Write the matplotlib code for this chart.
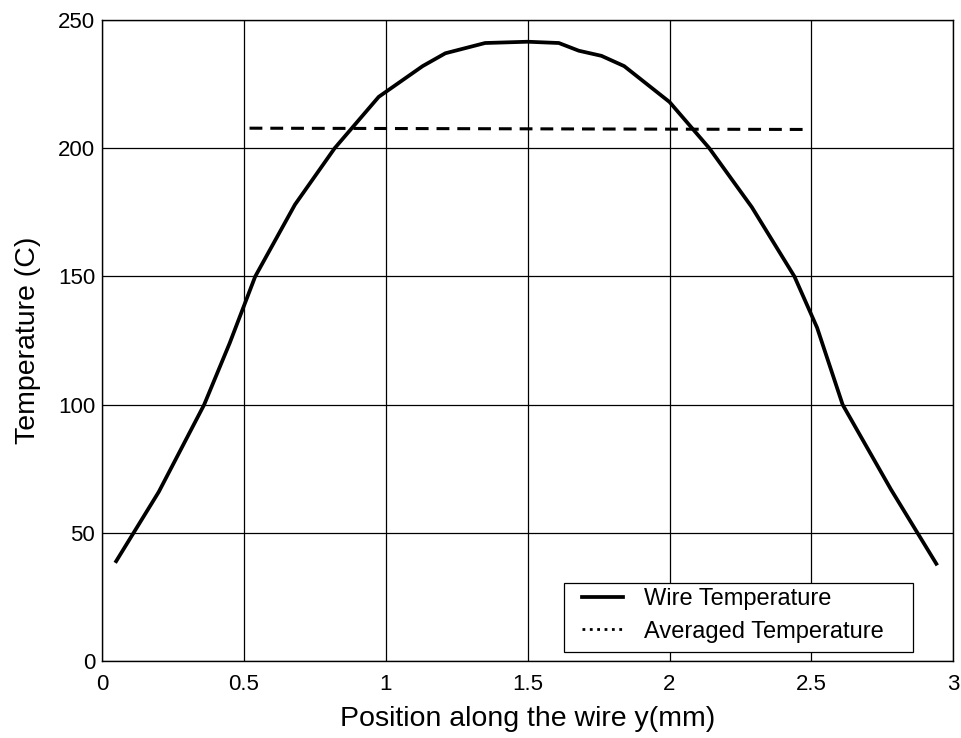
import matplotlib.pyplot as plt
from matplotlib.lines import Line2D
from matplotlib.patches import Rectangle

plt.rcParams['font.family'] = ['Liberation Sans', 'DejaVu Sans']

# wire temperature profile
pos = [0.05, 0.20, 0.36, 0.45, 0.54, 0.68, 0.82, 0.975, 1.13, 1.21, 1.35, 1.50,
       1.61, 1.68, 1.76, 1.84, 2.00, 2.14, 2.29, 2.44, 2.52, 2.61, 2.78, 2.94]
temp = [39, 66, 100, 124, 150, 178, 200, 220, 232, 237, 241, 241.5,
        241, 238, 236, 232, 218, 200, 177, 150, 130, 100, 67, 38]

# averaged temperature
avg_pos = [0.52, 2.48]
avg_temp = [207.8, 207.3]

fig = plt.figure(figsize=(9.62, 7.38), dpi=100)
ax = fig.add_axes([0.106, 0.104, 0.885, 0.869])

ax.plot(pos, temp, color='black', lw=2.7)
ax.plot(avg_pos, avg_temp, color='black', lw=2.2, dashes=(4.2, 2.6))

ax.set_xlim(0, 3)
ax.set_ylim(0, 250)
ax.set_xticks([0, 0.5, 1, 1.5, 2, 2.5, 3])
ax.set_xticklabels(['0', '0.5', '1', '1.5', '2', '2.5', '3'])
ax.set_yticks([0, 50, 100, 150, 200, 250])
ax.grid(True, color='black', lw=0.9)
ax.tick_params(length=0, labelsize=16)
ax.tick_params(axis='x', pad=9)
ax.tick_params(axis='y', pad=5)
for s in ax.spines.values():
    s.set_linewidth(1.0)

ax.set_xlabel('Position along the wire y(mm)', fontsize=20.5, labelpad=8)
ax.set_ylabel('Temperature (C)', fontsize=20.5, labelpad=12)

# legend box (drawn separately, wider on the right like the original)
ax.add_patch(Rectangle((0.543, 0.014), 0.41, 0.108, transform=ax.transAxes,
                       facecolor='white', edgecolor='black', lw=0.9, zorder=4))

handles = [Line2D([], [], color='black', lw=2.7),
           Line2D([], [], color='black', lw=2.0, linestyle=':')]
leg = ax.legend(handles, ['Wire Temperature', 'Averaged Temperature'],
                loc='lower left', bbox_to_anchor=(0.5546, 0.016),
                fontsize=17, frameon=False, handlelength=1.7, handletextpad=0.9,
                borderpad=0.35, labelspacing=0.45, borderaxespad=0)
leg.set_zorder(5)

fig.savefig('out.png', dpi=100)
